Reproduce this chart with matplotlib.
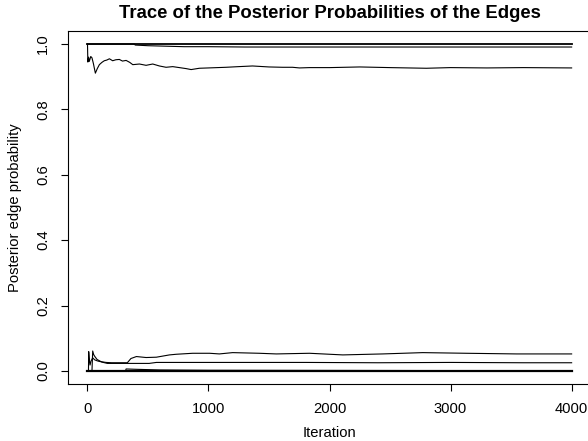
import matplotlib
matplotlib.use("Agg")
import matplotlib.pyplot as plt

plt.rcParams['font.family'] = ['Liberation Sans', 'DejaVu Sans']

# ---- data ----
title = "Trace of the Posterior Probabilities of the Edges"
x_label = "Iteration"
y_label = "Posterior edge probability"
x_ticks = [0, 1000, 2000, 3000, 4000]
y_ticks = [0.0, 0.2, 0.4, 0.6, 0.8, 1.0]
y_tick_labels = ["0.0", "0.2", "0.4", "0.6", "0.8", "1.0"]

# edges always present
edge_one_iter = [1, 4000]
edge_one_val = [1.0, 1.0]

# edge present until ~390, then slowly drifting down
edge_b_iter = [1, 388, 395, 500, 600, 700, 800, 1000, 1300, 1700, 2200, 2800, 3400, 4000]
edge_b_val = [1.0, 1.0, 0.997, 0.995, 0.994, 0.993, 0.992, 0.992, 0.991, 0.991,
              0.991, 0.991, 0.991, 0.991]

# edge around 0.93
edge_c_iter = [1, 4, 10, 16, 28, 38, 50, 66, 82, 99, 120, 140, 160, 182, 209, 235, 264,
               290, 320, 350, 375, 430, 485, 540, 595, 650, 705, 760, 815, 857, 925,
               1000, 1146, 1250, 1364, 1500, 1612, 1694, 1752, 1835, 2000, 2250, 2500,
               2800, 3000, 3300, 3600, 4000]
edge_c_val = [1.0, 0.945, 0.96, 0.947, 0.962, 0.958, 0.940, 0.911, 0.925, 0.937, 0.944,
              0.949, 0.951, 0.955, 0.949, 0.952, 0.953, 0.948, 0.950, 0.944, 0.937,
              0.939, 0.935, 0.939, 0.933, 0.929, 0.931, 0.928, 0.925, 0.922, 0.926,
              0.927, 0.929, 0.931, 0.933, 0.930, 0.929, 0.929, 0.927, 0.928, 0.928,
              0.930, 0.928, 0.926, 0.928, 0.927, 0.928, 0.927]

# edge ending around 0.05
edge_a_iter = [1, 9, 11, 16, 22, 30, 44, 60, 80, 99, 154, 200, 250, 330, 360, 405, 485,
               570, 678, 735, 870, 1010, 1090, 1200, 1420, 1560, 1835, 2110, 2440,
               2770, 3130, 3545, 4000]
edge_a_val = [0.0, 0.0, 0.059, 0.035, 0.018, 0.030, 0.040, 0.034, 0.031, 0.029, 0.026,
              0.025, 0.025, 0.025, 0.038, 0.044, 0.041, 0.042, 0.049, 0.051, 0.054,
              0.054, 0.052, 0.056, 0.054, 0.052, 0.054, 0.049, 0.052, 0.056, 0.054,
              0.052, 0.052]

# edge ending around 0.025
edge_e_iter = [1, 38, 44, 52, 60, 80, 120, 165, 250, 330, 420, 510, 570, 800, 1200,
               1800, 2400, 3000, 3600, 4000]
edge_e_val = [0.0, 0.0, 0.061, 0.050, 0.045, 0.035, 0.027, 0.023, 0.023, 0.023, 0.023,
              0.023, 0.026, 0.026, 0.026, 0.026, 0.025, 0.026, 0.025, 0.025]

# edge absent until ~320, then low
edge_d_iter = [1, 315, 320, 400, 600, 1000, 2000, 3000, 4000]
edge_d_val = [0.0, 0.0, 0.006, 0.005, 0.003, 0.002, 0.0015, 0.001, 0.001]

# edges always absent
edge_zero_iter = [1, 4000]
edge_zero_val = [0.0, 0.0]

# ---- figure ----
W, H = 588, 441
fig = plt.figure(figsize=(W / 100, H / 100), dpi=100)
left, right, top, bottom = 68, 591, 31, 384
ax = fig.add_axes([left / W, 1 - bottom / H, (right - left) / W, (bottom - top) / H])

thin = dict(color='black', lw=0.8)
ax.plot(edge_c_iter, edge_c_val, **thin)
ax.plot(edge_a_iter, edge_a_val, **thin)
ax.plot(edge_e_iter, edge_e_val, **thin)
ax.plot(edge_d_iter, edge_d_val, **thin)
ax.plot(edge_b_iter, edge_b_val, **thin)
ax.plot(edge_one_iter, edge_one_val, color='black', lw=1.3)
ax.plot(edge_zero_iter, edge_zero_val, color='black', lw=1.6)

ax.set_xlim(-160, 4160)
ax.set_ylim(-0.04, 1.04)
ax.set_xticks(x_ticks)
ax.set_xticklabels([str(t) for t in x_ticks])
ax.set_yticks(y_ticks)
ax.set_yticklabels(y_tick_labels, rotation=90, va='center')

for s in ax.spines.values():
    s.set_linewidth(0.8)
    s.set_color('black')

fs = 10.6
ax.tick_params(axis='both', direction='out', length=5, width=0.8, labelsize=fs,
               colors='black')
ax.tick_params(axis='x', pad=8)
ax.tick_params(axis='y', pad=8)

ax.set_xlabel(x_label, fontsize=fs)
ax.xaxis.set_label_coords(0.5, -(433 - bottom) / (bottom - top))
ax.xaxis.label.set_va('center')
ax.set_ylabel(y_label, fontsize=fs)
ax.yaxis.set_label_coords(-(left - 15) / (right - left), 0.5)
ax.yaxis.label.set_va('center')

fig.text(0.5 * (left + right) / W, 1 - 13 / H, title, ha='center', va='center',
         fontsize=13.3, fontweight='bold')

fig.savefig("out.png", dpi=100)
